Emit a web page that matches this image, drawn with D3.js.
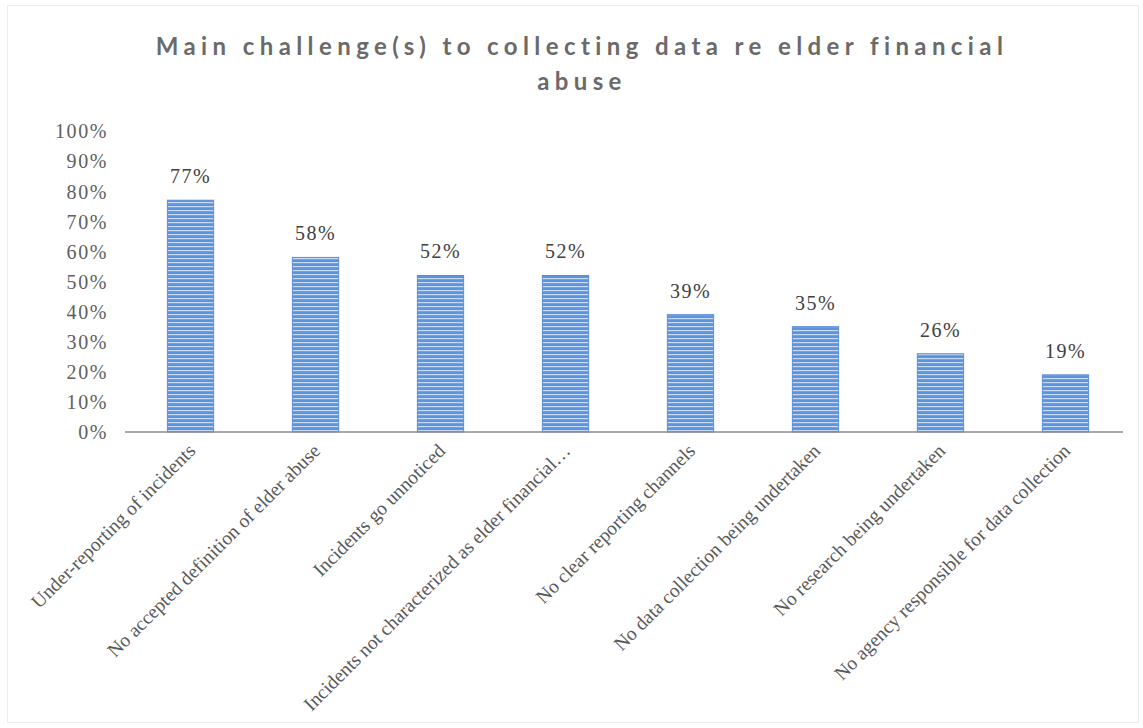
<!DOCTYPE html>
<html>
<head>
<meta charset="utf-8">
<script src="https://cdn.jsdelivr.net/npm/d3@7"></script>
<style>
  html, body { margin: 0; padding: 0; background: #fff; }
  svg { display: block; }
</style>
</head>
<body>
<svg id="chart" width="1143" height="728"></svg>
<script>
// Survey responses: main challenges to collecting data on elder financial abuse
const categories = [
  "Under-reporting of incidents",
  "No accepted definition of elder abuse",
  "Incidents go unnoticed",
  "Incidents not characterized as elder financial\u2026",
  "No clear reporting channels",
  "No data collection being undertaken",
  "No research being undertaken",
  "No agency responsible for data collection"
];
const values = [77, 58, 52, 52, 39, 35, 26, 19];
const yTicks = [0, 10, 20, 30, 40, 50, 60, 70, 80, 90, 100];
const titleLines = ["Main challenge(s) to collecting data re elder financial", "abuse"];

const W = 1143, H = 728;
const margin = { left: 128, right: 15, top: 131, bottom: 296 };
const svg = d3.select("#chart");
const serif = "'Liberation Serif', 'Times New Roman', serif";

// striped fill used by the bars
const defs = svg.append("defs");
const pat = defs.append("pattern")
  .attr("id", "stripes")
  .attr("patternUnits", "userSpaceOnUse")
  .attr("width", 8).attr("height", 4);
pat.append("rect").attr("width", 8).attr("height", 4).attr("fill", "#5c93dc");
pat.append("rect").attr("y", 2).attr("width", 8).attr("height", 1.2).attr("fill", "#c6dbf6");

// outer frame
svg.append("rect")
  .attr("x", 7.5).attr("y", 5.5)
  .attr("width", W - 12).attr("height", H - 11)
  .attr("fill", "#fff").attr("stroke", "#ececec");

const x = d3.scaleBand()
  .domain(categories)
  .range([margin.left, W - margin.right])
  .paddingInner(0.63).paddingOuter(0.315);

const y = d3.scaleLinear()
  .domain([0, 100])
  .range([H - margin.bottom, margin.top]);

// title
const title = svg.append("text")
  .attr("text-anchor", "middle")
  .attr("font-family", "Lato, 'Open Sans', sans-serif")
  .attr("font-weight", "bold")
  .attr("font-size", 24)
  .attr("letter-spacing", "5.4px")
  .attr("fill", "#6a6a6a");
titleLines.forEach((t, i) => {
  title.append("tspan").attr("x", 582).attr("y", 55 + i * 35).text(t);
});

// y axis (labels only)
const yAxis = svg.append("g")
  .attr("transform", `translate(125,0)`)
  .call(d3.axisLeft(y).tickValues(yTicks).tickFormat(d => d + "%").tickSize(0).tickPadding(17));
yAxis.select(".domain").remove();
yAxis.selectAll("text")
  .attr("font-family", serif)
  .attr("font-size", 20)
  .attr("letter-spacing", "1.6px")
  .attr("fill", "#606060")
  .attr("dy", "0.34em");

// bars
svg.append("g").selectAll("rect")
  .data(values)
  .join("rect")
  .attr("x", (d, i) => x(categories[i]))
  .attr("y", d => y(d))
  .attr("width", x.bandwidth())
  .attr("height", d => y(0) - y(d))
  .attr("fill", "url(#stripes)")
  .attr("stroke", "#5b8fd4")
  .attr("stroke-width", 1);

// value labels
svg.append("g").selectAll("text")
  .data(values)
  .join("text")
  .attr("x", (d, i) => x(categories[i]) + x.bandwidth() / 2)
  .attr("y", d => y(d) - 17)
  .attr("text-anchor", "middle")
  .attr("font-family", serif)
  .attr("font-size", 20)
  .attr("letter-spacing", "1.5px")
  .attr("fill", "#404040")
  .text(d => d + "%");

// x axis
const xAxis = svg.append("g")
  .attr("transform", `translate(0,${y(0)})`)
  .call(d3.axisBottom(x).tickSize(0).tickPadding(0));
xAxis.select(".domain").remove();
svg.append("line")
  .attr("x1", 125).attr("x2", W - 20)
  .attr("y1", y(0)).attr("y2", y(0))
  .attr("stroke", "#8c8c8c")
  .attr("stroke-width", 1.5);
xAxis.selectAll(".tick text")
  .attr("font-family", serif)
  .attr("font-size", 19.5)
  .attr("fill", "#595959")
  .attr("text-anchor", "end")
  .attr("dy", 0)
  .attr("transform", "translate(6,20) rotate(-45)");
</script>
</body>
</html>
